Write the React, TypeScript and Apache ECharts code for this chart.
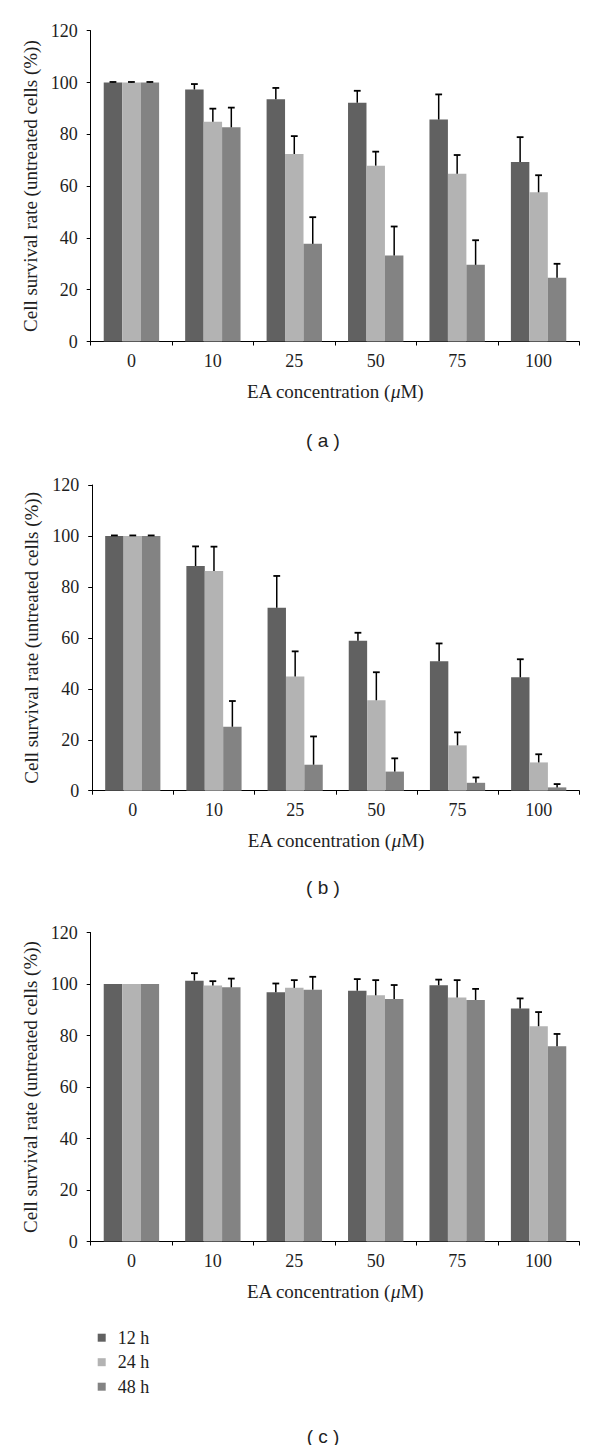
import React, { useEffect, useRef } from "react";
import * as echarts from "echarts";

const categories = ["0", "10", "25", "50", "75", "100"];
const seriesNames = ["12 h", "24 h", "48 h"];
const yTicks = [0, 20, 40, 60, 80, 100, 120];

// Panel (a)
const a12 = [100, 97.3, 93.5, 92.2, 85.7, 69.3];
const a24 = [100, 84.8, 72.4, 67.9, 64.8, 57.6];
const a48 = [100, 82.7, 37.7, 33.2, 29.6, 24.6];
const a12sd = [0.2, 2.1, 4.4, 4.6, 9.7, 9.6];
const a24sd = [0.2, 5.1, 6.9, 5.4, 7.2, 6.6];
const a48sd = [0.2, 7.6, 10.3, 11.2, 9.5, 5.4];

// Panel (b)
const b12 = [100, 88.2, 71.8, 58.9, 50.8, 44.5];
const b24 = [100, 86.2, 44.8, 35.5, 17.8, 11.1];
const b48 = [100, 25.1, 10.2, 7.5, 3.1, 1.3];
const b12sd = [0.2, 7.7, 12.5, 3.1, 7.0, 7.1];
const b24sd = [0.2, 9.6, 9.9, 11.0, 5.1, 3.2];
const b48sd = [0.2, 10.1, 11.1, 5.2, 2.1, 1.3];

// Panel (c)
const c12 = [100, 101.3, 96.8, 97.4, 99.5, 90.5];
const c24 = [100, 99.4, 98.5, 95.6, 94.8, 83.6];
const c48 = [100, 98.7, 97.8, 94.2, 93.8, 75.8];
const c12sd = [null, 2.9, 3.4, 4.5, 2.2, 3.9];
const c24sd = [null, 1.7, 3.0, 5.9, 6.7, 5.5];
const c48sd = [null, 3.4, 5.0, 5.4, 4.3, 4.8];

const captions = ["( a )", "( b )", "( c )"];
const yTitle = "Cell survival rate (untreated cells (%))";

const colors = ["#616161", "#b3b3b3", "#838383"];
const SERIF = '"Liberation Serif", "Times New Roman", serif';
const SANS = '"Liberation Sans", Arial, sans-serif';
const TEXT = "#1e1e1e";
const GAP = 0.32;

const panels = [
  { vals: [a12, a24, a48], sds: [a12sd, a24sd, a48sd] },
  { vals: [b12, b24, b48], sds: [b12sd, b24sd, b48sd] },
  { vals: [c12, c24, c48], sds: [c12sd, c24sd, c48sd] },
];

const grids = [
  { left: 90.7, top: 30.7, width: 488.6, height: 310.8 },
  { left: 92.2, top: 485, width: 487.1, height: 305.7 },
  { left: 90.7, top: 932.5, width: 488.6, height: 309 },
];
const captionY = [440, 887, 1436];

export default function App() {
  const ref = useRef<HTMLDivElement>(null);
  useEffect(() => {
    document.body.style.margin = "0";
    if (!ref.current) return;
    const chart = echarts.init(ref.current, undefined, { renderer: "svg" });

    const xAxis: any[] = [];
    const yAxis: any[] = [];
    const series: any[] = [];

    panels.forEach((p, pi) => {
      xAxis.push({
        type: "category",
        gridIndex: pi,
        data: categories,
        axisLine: { lineStyle: { color: "#000", width: 1 } },
        axisTick: { show: true, length: 4, lineStyle: { color: "#000" } },
        axisLabel: { fontFamily: SERIF, fontSize: 18, color: TEXT, margin: 10 },
        name: "{n|EA concentration (}{i|μ}{n|M)}",
        nameLocation: "middle",
        nameGap: 40,
        nameTextStyle: {
          rich: {
            n: { fontFamily: SERIF, fontSize: 19, color: TEXT },
            i: { fontFamily: SERIF, fontSize: 19, color: TEXT, fontStyle: "italic" },
          },
        },
      });
      yAxis.push({
        type: "value",
        gridIndex: pi,
        min: yTicks[0],
        max: yTicks[yTicks.length - 1],
        interval: yTicks[1] - yTicks[0],
        splitLine: { show: false },
        axisLine: { show: true, lineStyle: { color: "#000", width: 1 } },
        axisTick: { show: true, length: 4, lineStyle: { color: "#000" } },
        axisLabel: { fontFamily: SERIF, fontSize: 18, color: TEXT, margin: 13 },
        name: yTitle,
        nameLocation: "middle",
        nameRotate: 90,
        nameGap: 51,
        nameTextStyle: { fontFamily: SERIF, fontSize: 19, color: TEXT },
      });
      p.vals.forEach((vals, si) => {
        series.push({
          type: "bar",
          name: seriesNames[si],
          xAxisIndex: pi,
          yAxisIndex: pi,
          data: vals,
          barGap: "0%",
          barCategoryGap: GAP * 100 + "%",
          itemStyle: { color: colors[si] },
          silent: true,
        });
      });
      p.vals.forEach((vals, si) => {
        const sd = p.sds[si];
        const data: any[] = [];
        vals.forEach((v, i) => {
          if (sd[i] !== null && sd[i] !== undefined) data.push([i, v, v + (sd[i] as number)]);
        });
        series.push({
          type: "custom",
          xAxisIndex: pi,
          yAxisIndex: pi,
          silent: true,
          z: 5,
          encode: { x: 0, y: [1, 2] },
          data,
          renderItem: (params: any, api: any) => {
            const band = api.size([1, 0])[0];
            const bw = (band * (1 - GAP)) / 3;
            const base = api.coord([api.value(0), api.value(1)]);
            const top = api.coord([api.value(0), api.value(2)]);
            const x = base[0] + (si - 1) * bw;
            return {
              type: "group",
              children: [
                {
                  type: "line",
                  shape: { x1: x, y1: base[1], x2: x, y2: top[1] },
                  style: { stroke: "#000", lineWidth: 1.5 },
                },
                {
                  type: "line",
                  shape: { x1: x - 3.4, y1: top[1], x2: x + 3.4, y2: top[1] },
                  style: { stroke: "#000", lineWidth: 1.8 },
                },
              ],
            };
          },
        });
      });
    });

    chart.setOption({
      animation: false,
      backgroundColor: "#fff",
      grid: grids.map((g) => ({ ...g, containLabel: false })),
      xAxis,
      yAxis,
      series,
      legend: {
        data: seriesNames,
        orient: "vertical",
        left: 92.7,
        top: 1323.7,
        itemWidth: 8,
        itemHeight: 8,
        itemGap: 6.5,
        icon: "rect",
        selectedMode: false,
        textStyle: {
          fontFamily: SERIF,
          fontSize: 18,
          lineHeight: 18,
          color: TEXT,
          padding: [0, 0, 0, 7],
        },
      },
      graphic: captions.map((c, i) => ({
        type: "text",
        x: 323,
        y: captionY[i],
        style: {
          text: c,
          font: "19px " + SANS,
          fill: TEXT,
          align: "center",
          verticalAlign: "middle",
        },
      })),
    });
    return () => chart.dispose();
  }, []);
  return <div ref={ref} style={{ width: 600, height: 1445 }} />;
}
